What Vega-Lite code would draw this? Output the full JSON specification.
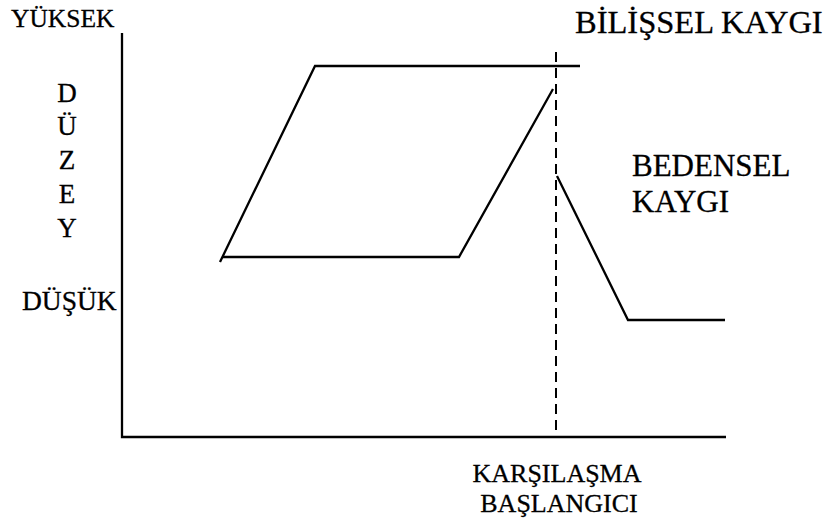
{
  "$schema": "https://vega.github.io/schema/vega-lite/v6.json",
  "width": 828,
  "height": 522,
  "autosize": "none",
  "padding": 0,
  "background": "white",
  "config": {"view": {"stroke": null}, "text": {"font": "serif"}},
  "datasets": {
    "lines": [
      {"series": "axes", "t": 122, "level": 33, "o": 1},
      {"series": "axes", "t": 122, "level": 437, "o": 2},
      {"series": "axes", "t": 726, "level": 437, "o": 3},
      {"series": "bilissel", "t": 220, "level": 262, "o": 1},
      {"series": "bilissel", "t": 315, "level": 66, "o": 2},
      {"series": "bilissel", "t": 580, "level": 66, "o": 3},
      {"series": "bedensel1", "t": 223, "level": 257, "o": 1},
      {"series": "bedensel1", "t": 459, "level": 257, "o": 2},
      {"series": "bedensel1", "t": 553, "level": 89, "o": 3},
      {"series": "bedensel2", "t": 557, "level": 176, "o": 1},
      {"series": "bedensel2", "t": 628, "level": 320, "o": 2},
      {"series": "bedensel2", "t": 725, "level": 320, "o": 3}
    ],
    "dash": [{"t": 556, "level": 52, "level2": 437}],
    "labels": [
      {"txt": "YÜKSEK", "t": 11, "level": 27, "size": 25.5, "align": "left"},
      {"txt": "BİLİŞSEL KAYGI", "t": 575, "level": 33, "size": 32.5, "align": "left"},
      {"txt": "D", "t": 67, "level": 102, "size": 27, "align": "center"},
      {"txt": "Ü", "t": 67, "level": 135, "size": 27, "align": "center"},
      {"txt": "Z", "t": 67, "level": 169, "size": 27, "align": "center"},
      {"txt": "E", "t": 67, "level": 203, "size": 27, "align": "center"},
      {"txt": "Y", "t": 67, "level": 237, "size": 27, "align": "center"},
      {"txt": "DÜŞÜK", "t": 22, "level": 310, "size": 27.5, "align": "left"},
      {"txt": "BEDENSEL", "t": 632, "level": 176, "size": 31, "align": "left"},
      {"txt": "KAYGI", "t": 632, "level": 212, "size": 31, "align": "left"},
      {"txt": "KARŞILAŞMA", "t": 557, "level": 482, "size": 26, "align": "center"},
      {"txt": "BAŞLANGICI", "t": 559, "level": 512, "size": 26, "align": "center"}
    ]
  },
  "layer": [
    {
      "data": {"name": "lines"},
      "mark": {"type": "line", "color": "black", "strokeWidth": 2.3, "strokeCap": "butt"},
      "encoding": {
        "x": {"field": "t", "type": "quantitative", "scale": {"domain": [0, 828], "nice": false, "zero": false}, "axis": null},
        "y": {"field": "level", "type": "quantitative", "scale": {"domain": [0, 522], "reverse": true, "nice": false, "zero": false}, "axis": null},
        "detail": {"field": "series"},
        "order": {"field": "o"}
      }
    },
    {
      "data": {"name": "dash"},
      "mark": {"type": "rule", "color": "black", "strokeWidth": 2, "strokeDash": [10, 6]},
      "encoding": {
        "x": {"field": "t", "type": "quantitative"},
        "y": {"field": "level", "type": "quantitative"},
        "y2": {"field": "level2"}
      }
    },
    {
      "data": {"name": "labels"},
      "transform": [{"filter": "datum.align == 'left'"}],
      "mark": {"type": "text", "font": "serif", "fill": "black", "stroke": "black", "strokeWidth": 0.3, "align": "left", "baseline": "alphabetic"},
      "encoding": {
        "x": {"field": "t", "type": "quantitative"},
        "y": {"field": "level", "type": "quantitative"},
        "text": {"field": "txt"},
        "size": {"field": "size", "type": "quantitative", "scale": null}
      }
    },
    {
      "data": {"name": "labels"},
      "transform": [{"filter": "datum.align == 'center'"}],
      "mark": {"type": "text", "font": "serif", "fill": "black", "stroke": "black", "strokeWidth": 0.3, "align": "center", "baseline": "alphabetic"},
      "encoding": {
        "x": {"field": "t", "type": "quantitative"},
        "y": {"field": "level", "type": "quantitative"},
        "text": {"field": "txt"},
        "size": {"field": "size", "type": "quantitative", "scale": null}
      }
    }
  ]
}
